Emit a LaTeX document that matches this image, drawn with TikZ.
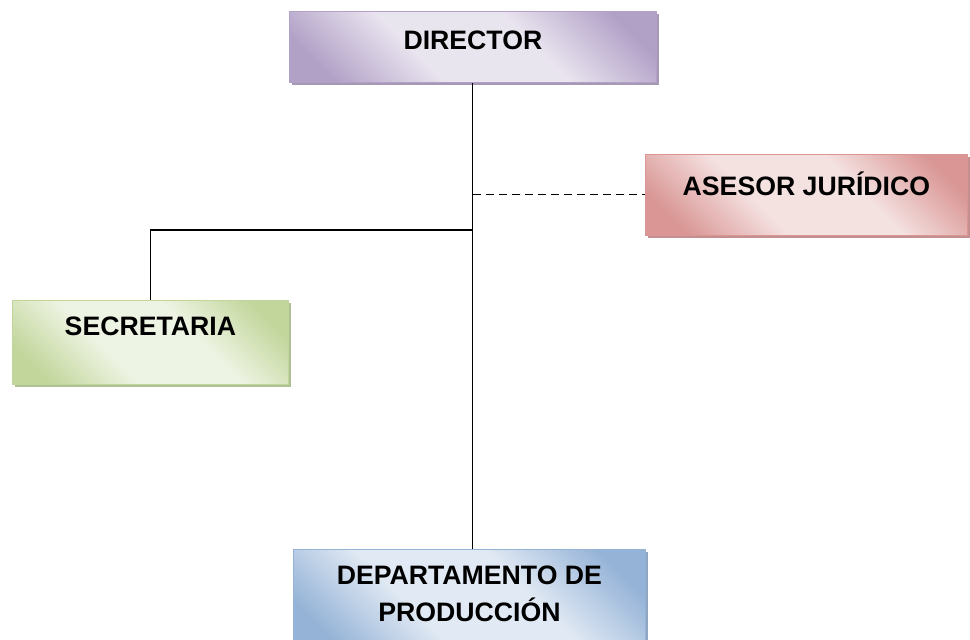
\documentclass[tikz,border=0pt]{standalone}
\usepackage{fontspec}
\setmainfont{Liberation Sans}
\usetikzlibrary{shadows}

\definecolor{morado}{RGB}{178,161,199}
\definecolor{rojo}{RGB}{217,150,148}
\definecolor{verde}{RGB}{194,214,155}
\definecolor{azul}{RGB}{149,179,215}
\colorlet{cajaosc}{gray}
\colorlet{cajacla}{white}
\pgfdeclarehorizontalshading[cajaosc,cajacla]{cinta}{100bp}{color(0bp)=(cajaosc); color(22bp)=(cajaosc);
  color(40bp)=(cajacla); color(60bp)=(cajacla); color(78bp)=(cajaosc); color(100bp)=(cajaosc)}

\begin{document}
\begin{tikzpicture}[
  x=0.75pt, y=0.75pt,
  caja/.style={rectangle, draw=#1, line width=0.6pt, inner sep=0pt,
    /utils/exec={\colorlet{cajaosc}{#1}\colorlet{cajacla}{#1!28}},
    shade, shading=cinta, shading angle=45,
    drop shadow={shadow xshift=2.2pt, shadow yshift=-2.2pt, opacity=1, fill=#1!75!gray}},
  texto/.style={font=\bfseries\fontsize{20}{27.5}\selectfont, align=center, inner sep=0pt},
  linea/.style={line width=0.8pt, draw=black},
  trazos/.style={linea, dash pattern=on 6pt off 3.75pt}
]
  \useasboundingbox (0,0) rectangle (970,639);

  % Cajas
  \node[caja=morado, minimum width=275.25pt, minimum height=53.25pt, anchor=north west] (dir) at (289,628) {};
  \node[caja=rojo, minimum width=241.5pt, minimum height=60.75pt, anchor=north west] (ase) at (645,485) {};
  \node[caja=verde, minimum width=207pt, minimum height=63pt, anchor=north west] (sec) at (12,339) {};
  \node[caja=azul, minimum width=264pt, minimum height=75pt, anchor=north west] (dep) at (293,90) {};

  % Textos
  \node[texto] (dir-t) at ([yshift=-21.75pt]dir.north) {DIRECTOR};
  \node[texto] (ase-t) at ([yshift=-22.5pt]ase.north) {ASESOR JURÍDICO};
  \node[texto] (sec-t) at ([yshift=-19.5pt]sec.north) {SECRETARIA};
  \node[texto] (dep-t) at ([yshift=-33.4pt]dep.north) {DEPARTAMENTO DE\\PRODUCCIÓN};

  % Conectores
  \coordinate (rama) at (dir.south |- 0,409);
  \draw[linea] (dir.south) -- (dir.south |- dep.north);
  \draw[linea] (rama) -| (sec.north);
  \draw[trazos] (dir.south |- ase.west) -- (ase.west);
\end{tikzpicture}
\end{document}
